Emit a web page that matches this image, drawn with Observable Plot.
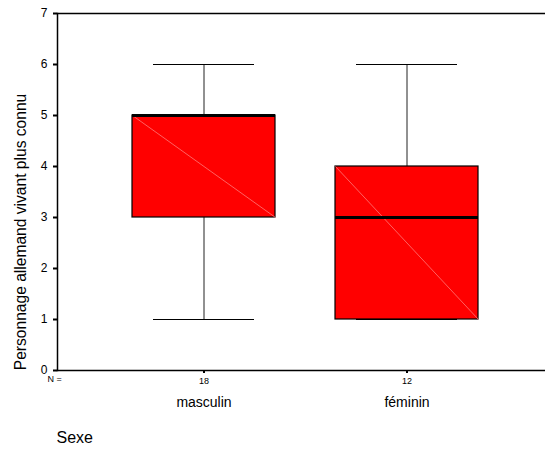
<!DOCTYPE html>
<html>
<head>
<meta charset="utf-8">
<script src="https://cdn.jsdelivr.net/npm/d3@7"></script>
<script src="https://cdn.jsdelivr.net/npm/@observablehq/plot@0.6"></script>
<style>
  html, body { margin: 0; padding: 0; background: white; overflow: hidden; }
  #chart svg { display: block; }
</style>
</head>
<body>
<div id="chart"></div>
<script>
const categories = ["masculin", "féminin"];
const counts = [18, 12];
const mins = [1, 1];
const q1s = [3, 1];
const medians = [5, 3];
const q3s = [5, 4];
const maxs = [6, 6];
const yTicks = [0, 1, 2, 3, 4, 5, 6, 7];

const data = categories.map((c, i) => ({
  sexe: c, n: counts[i], min: mins[i], q1: q1s[i], median: medians[i], q3: q3s[i], max: maxs[i]
}));
const nByCat = new Map(data.map(d => [d.sexe, d.n]));

const font = "'Liberation Sans', Arial, Helvetica, sans-serif";

const chart = Plot.plot({
  width: 545,
  height: 455,
  marginLeft: 57,
  marginRight: -2,
  marginTop: 13,
  marginBottom: 85,
  style: { fontFamily: font, background: "white", color: "black" },
  x: { type: "band", domain: categories, range: [101.5, 507.5], paddingInner: 0.2956, paddingOuter: 0.1478 },
  y: { domain: [0, 7] },
  marks: [
    Plot.ruleY([0, 7], { stroke: "black", strokeWidth: 1.5 }),
    Plot.frame({ anchor: "left", stroke: "black", strokeWidth: 1.5 }),
    Plot.axisY({ ticks: yTicks, tickSize: 4, tickPadding: 6, tickFormat: d => String(d), fontSize: 12, strokeWidth: 2, label: null }),
    Plot.axisX({ tickSize: 3, strokeWidth: 2, tickPadding: 4, fontSize: 9, tickFormat: d => String(nByCat.get(d)), label: null }),
    Plot.axisX({ tickSize: 0, tickPadding: 27, fontSize: 14, label: null }),
    Plot.text(["N ="], { frameAnchor: "bottom-left", dy: 11, dx: -3, fontSize: 9, textAnchor: "middle", fill: "black" }),
    Plot.ruleX(data, { x: "sexe", y1: "min", y2: "q1", stroke: "#222", strokeWidth: 1 }),
    Plot.ruleX(data, { x: "sexe", y1: "q3", y2: "max", stroke: "#222", strokeWidth: 1 }),
    Plot.tickY(data, { x: "sexe", y: "min", insetLeft: 21, insetRight: 21, stroke: "black", strokeWidth: 1 }),
    Plot.tickY(data, { x: "sexe", y: "max", insetLeft: 21, insetRight: 21, stroke: "black", strokeWidth: 1 }),
    Plot.barY(data, { x: "sexe", y1: "q1", y2: "q3", fill: "#ff0000", stroke: "black", strokeWidth: 1.2, inset: 0 }),
    Plot.link(data, {
      x1: "sexe", x2: "sexe", y1: "q3", y2: "q1", stroke: "#ff7a7a", strokeWidth: 0.8,
      render(index, scales, values, dimensions, context, next) {
        const bw = scales.x.bandwidth();
        const x1 = Float64Array.from(values.x1, v => v - bw / 2);
        const x2 = Float64Array.from(values.x2, v => v + bw / 2);
        return next(index, scales, { ...values, x1, x2 }, dimensions, context);
      }
    }),
    Plot.tickY(data, { x: "sexe", y: "median", stroke: "black", strokeWidth: 3 }),
    Plot.text(["Personnage allemand vivant plus connu"], { frameAnchor: "left", rotate: -90, dx: -37, dy: 40, fontSize: 15.6, textAnchor: "middle", fill: "black" }),
    Plot.text(["Sexe"], { frameAnchor: "bottom-left", dy: 72, dx: -1, fontSize: 16, textAnchor: "start" })
  ]
});
document.getElementById("chart").appendChild(chart);
</script>
</body>
</html>
